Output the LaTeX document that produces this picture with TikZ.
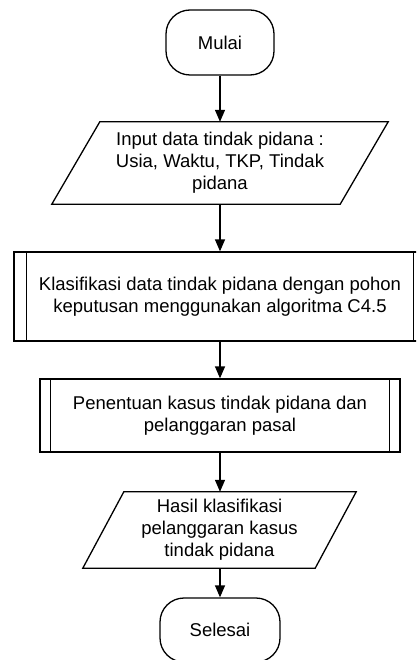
\documentclass[tikz,border=0pt]{standalone}
\usepackage{fontspec}
\setmainfont{Liberation Sans}
\usetikzlibrary{arrows.meta}
\tikzset{
  lbl/.style={draw=none, inner sep=0pt, align=center, font=\fontsize{18.5}{22}\selectfont},
  outl/.style={draw=black, line width=1.3pt, line join=miter},
  conn/.style={draw=black, line width=1.3pt, -{Triangle[width=10pt,length=12pt]}}
}
\begin{document}
\begin{tikzpicture}[x=1pt,y=-1pt]
\useasboundingbox (0,0) rectangle (416,660);
\clip (0,0) rectangle (416,660);
% terminators
\node[lbl, outl, rounded corners=24pt, minimum width=108pt, minimum height=65pt] (start) at (220,42.5) {Mulai};
\node[lbl, outl, rounded corners=24pt, minimum width=120pt, minimum height=64pt] (stop) at (220,630) {Selesai};
% input parallelogram
\node[lbl, minimum width=288pt, minimum height=82pt] (in) at (220,163) {Input data tindak pidana :\\Usia, Waktu, TKP, Tindak\\pidana};
\draw[outl] ([xshift=24pt]in.north west) -- ([xshift=24pt]in.north east) -- ([xshift=-24pt]in.south east) -- ([xshift=-24pt]in.south west) -- cycle;
% process 1
\node[lbl, outl, minimum width=412pt, minimum height=89pt] (klas) at (220,296.5) {Klasifikasi data tindak pidana dengan pohon\\keputusan menggunakan algoritma C4.5};
\draw[outl] ([xshift=13pt]klas.north west) -- ([xshift=13pt]klas.south west);
\draw[outl] ([xshift=-13pt]klas.north east) -- ([xshift=-13pt]klas.south east);
% process 2
\node[lbl, outl, minimum width=360pt, minimum height=73pt] (pen) at (220,415.5) {Penentuan kasus tindak pidana dan\\pelanggaran pasal};
\draw[outl] ([xshift=11pt]pen.north west) -- ([xshift=11pt]pen.south west);
\draw[outl] ([xshift=-11pt]pen.north east) -- ([xshift=-11pt]pen.south east);
% output parallelogram
\node[lbl, minimum width=232pt, minimum height=76pt] (out) at (219.5,530) {Hasil klasifikasi\\pelanggaran kasus\\tindak pidana};
\draw[outl] ([xshift=20.5pt]out.north west) -- ([xshift=20.5pt]out.north east) -- ([xshift=-20.5pt]out.south east) -- ([xshift=-20.5pt]out.south west) -- cycle;
% connectors
\draw[conn] (start.south) -- (in.north -| start.south);
\draw[conn] (in.south -| start.south) -- (klas.north);
\draw[conn] (klas.south) -- (pen.north);
\draw[conn] (pen.south) -- (out.north -| pen.south);
\draw[conn] (out.south -| pen.south) -- (stop.north);
\end{tikzpicture}
\end{document}
